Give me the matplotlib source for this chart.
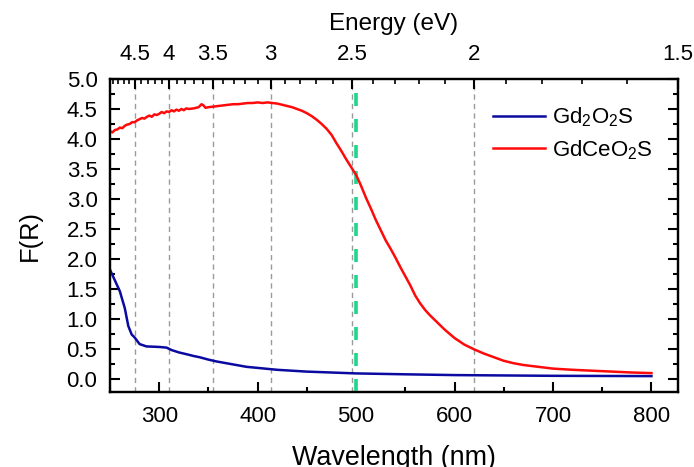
import numpy as np
import matplotlib
matplotlib.use("Agg")
import matplotlib.pyplot as plt
from matplotlib.ticker import MultipleLocator, FixedLocator

plt.rcParams['font.family'] = ['Liberation Sans', 'DejaVu Sans']
plt.rcParams['mathtext.fontset'] = 'custom'
plt.rcParams['mathtext.rm'] = 'Liberation Sans'

# ---- data ----
wl_blue = [250, 255, 260, 265, 268.6, 272, 275, 280, 287, 295, 301, 307.5, 312.5,
           320, 327.8, 335, 341, 350, 358, 375, 388.6, 420, 450, 500, 550, 600, 700, 800]
fr_blue = [1.82, 1.64, 1.46, 1.18, 0.88, 0.74, 0.69, 0.58, 0.54, 0.535, 0.53, 0.52, 0.48,
           0.44, 0.41, 0.38, 0.36, 0.32, 0.29, 0.24, 0.20, 0.15, 0.12, 0.09, 0.075, 0.062, 0.05, 0.045]

wl_red = [250, 252.5, 255, 257.5, 260, 262.5, 265, 267.5, 270, 272.5, 275, 277.5, 280, 282.5,
          285, 287.5, 290, 292.5, 295, 297.5, 300, 302.5, 305, 307.5, 310, 312.5, 315, 317.5,
          320, 322.5, 325, 327.5, 330, 335, 340, 343, 345, 347, 350, 355, 360, 365, 370, 375,
          380, 385, 390, 395, 400, 405, 410, 415, 420, 425, 430, 435, 440, 445, 450, 455, 460,
          465, 470, 475, 480, 485, 490, 495, 500, 505, 510, 515, 520, 525, 530, 535, 540, 545,
          550, 555, 560, 565, 570, 575, 580, 585, 590, 595, 600, 610, 620, 630, 640, 650, 660,
          670, 680, 690, 700, 720, 740, 760, 780, 800]
fr_red = [4.13, 4.11, 4.15, 4.16, 4.19, 4.18, 4.22, 4.24, 4.25, 4.28, 4.28, 4.31, 4.33, 4.35,
          4.34, 4.37, 4.39, 4.37, 4.41, 4.40, 4.42, 4.45, 4.43, 4.46, 4.45, 4.48, 4.46, 4.49,
          4.47, 4.50, 4.48, 4.51, 4.50, 4.51, 4.53, 4.58, 4.56, 4.52, 4.53, 4.54, 4.55, 4.56, 4.57, 4.58,
          4.58, 4.59, 4.60, 4.60, 4.61, 4.60, 4.61, 4.60, 4.59, 4.57, 4.55, 4.53, 4.50, 4.47, 4.43, 4.38, 4.32,
          4.25, 4.17, 4.07, 3.93, 3.80, 3.66, 3.53, 3.40, 3.22, 3.02, 2.84, 2.65, 2.48, 2.31, 2.17, 2.02, 1.86,
          1.71, 1.56, 1.39, 1.26, 1.15, 1.06, 0.98, 0.90, 0.82, 0.75, 0.68, 0.57, 0.49, 0.42, 0.36, 0.30, 0.26,
          0.23, 0.21, 0.19, 0.17, 0.15, 0.135, 0.12, 0.105, 0.095]

energy_ticks = [4.5, 4.0, 3.5, 3.0, 2.5, 2.0, 1.5]
energy_labels = ['4.5', '4', '3.5', '3', '2.5', '2', '1.5']
energy_minor = [round(1.5 + 0.1 * i, 1) for i in range(35)]
marker_wl = 500

# ---- figure ----
fig = plt.figure(figsize=(6.94, 4.67), dpi=100)
ax = fig.add_axes([0.1585, 0.1606, 0.818, 0.6702])

hc = 1240.0
xmin, xmax = 250, hc / 1.5

for e in energy_ticks[:-1]:
    ax.axvline(hc / e, color='#9a9a9a', lw=1.0, ls=(0, (3.8, 3.0)), zorder=1)
ax.axvline(marker_wl, color='#1fd68c', lw=2.6, ls=(0, (3.6, 3.6)), zorder=3)

ax.plot(wl_blue, fr_blue, color='#0a0aa0', lw=1.8, label='Gd$_2$O$_2$S', zorder=4)
ax.plot(wl_red, fr_red, color='#ff0a0a', lw=1.8, label='GdCeO$_2$S', zorder=4)

ax.set_xlim(xmin, xmax)
ax.set_ylim(-0.22, 5.0)
ax.xaxis.set_major_locator(FixedLocator([300, 400, 500, 600, 700, 800]))
ax.xaxis.set_minor_locator(FixedLocator([250, 350, 450, 550, 650, 750]))
ax.yaxis.set_major_locator(MultipleLocator(0.5))
ax.yaxis.set_minor_locator(MultipleLocator(0.25))
ax.yaxis.set_major_formatter(matplotlib.ticker.FormatStrFormatter('%.1f'))

ax.tick_params(axis='both', which='major', direction='in', length=7, width=1.5,
               labelsize=16)
ax.tick_params(axis='x', which='major', pad=10)
ax.tick_params(axis='y', which='major', pad=9)
ax.tick_params(axis='both', which='minor', direction='in', length=3.5, width=1.5)
ax.tick_params(axis='y', which='both', right=True)
ax.tick_params(axis='x', which='both', top=False)
for s in ax.spines.values():
    s.set_linewidth(1.6)

ax.set_xlabel('Wavelength (nm)', fontsize=19.4, labelpad=13)
ax.set_ylabel('F(R)', fontsize=18.4, labelpad=18)

ax2 = ax.twiny()
ax2.set_xlim(xmin, xmax)
ax2.xaxis.set_major_locator(FixedLocator([hc / e for e in energy_ticks]))
ax2.set_xticklabels(energy_labels)
ax2.xaxis.set_minor_locator(FixedLocator([hc / e for e in energy_minor if e not in energy_ticks]))
ax2.tick_params(axis='x', which='major', direction='in', length=7, width=1.5,
                labelsize=16, pad=10)
ax2.tick_params(axis='x', which='minor', direction='in', length=3.5, width=1.2)
ax2.set_xlabel('Energy (eV)', fontsize=17.5, labelpad=10)
for s in ax2.spines.values():
    s.set_linewidth(1.6)

leg = ax.legend(loc='upper left', bbox_to_anchor=(0.674, 0.915), frameon=False,
                fontsize=16, handlelength=2.35, handletextpad=0.3, labelspacing=0.4,
                borderaxespad=0, borderpad=0)

fig.savefig('out.png', dpi=100)
